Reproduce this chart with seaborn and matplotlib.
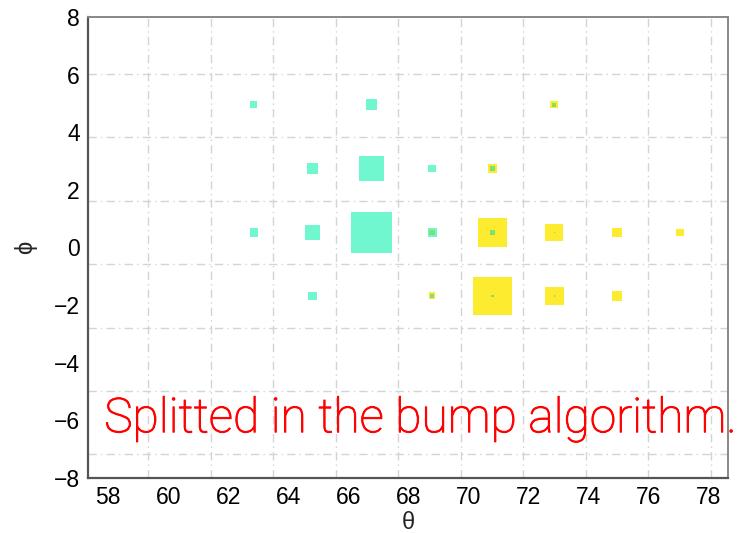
import numpy as np
import pandas as pd
import matplotlib
matplotlib.use("Agg")
import matplotlib.pyplot as plt
import matplotlib.patheffects as pe
from matplotlib.ticker import MultipleLocator
import seaborn as sns

# Cell centres of the (theta, phi) binning
theta_centres = [62.85, 64.8, 66.77, 68.78, 70.8, 72.85, 74.94, 77.03]
phi_centres = [4.96, 2.74, 0.52, -1.68]

# Cluster 1 (cyan): theta, phi, content
c1_theta = [62.85, 66.77, 64.8, 66.77, 68.78, 70.8, 72.85,
            62.85, 64.8, 66.77, 68.78, 70.8, 72.85,
            64.8, 68.78, 70.8, 72.85]
c1_phi = [4.96, 4.96, 2.74, 2.74, 2.74, 2.74, 4.96,
          0.52, 0.52, 0.52, 0.52, 0.52, 0.52,
          -1.68, -1.68, -1.68, -1.68]
c1_val = [11.5, 17.5, 17.5, 41.5, 11.5, 8.0, 6.5,
          13.0, 24.0, 67.0, 14.5, 8.0, 2.0,
          13.5, 6.5, 4.5, 2.0]

# Cluster 2 (yellow): theta, phi, content
c2_theta = [70.8, 72.85,
            68.78, 70.8, 72.85, 74.94, 77.03,
            68.78, 70.8, 72.85, 74.94]
c2_phi = [2.74, 4.96,
          0.52, 0.52, 0.52, 0.52, 0.52,
          -1.68, -1.68, -1.68, -1.68]
c2_val = [14.5, 12.5,
          8.5, 47.0, 28.5, 15.0, 12.0,
          11.0, 62.0, 30.0, 15.0]

x_grid = [59.33, 61.42, 63.5, 65.58, 67.66, 69.74, 71.82, 73.9, 75.97, 78.06]
y_grid = [6.02, 3.82, 1.62, -0.58, -2.78, -4.98, -7.18]

note = "Splitted in the bump algorithm."

CYAN = "#70f7cf"
YELLOW = "#fdeb2f"
GREEN = "#7ee070"

sns.set_theme(style="white")
plt.rcParams["font.family"] = ["Liberation Sans", "DejaVu Sans"]

fig = plt.figure(figsize=(7.43, 5.33), dpi=100)
ax = fig.add_axes([0.1184, 0.1032, 0.8614, 0.8649])

df1 = pd.DataFrame({"theta": c1_theta, "phi": c1_phi, "val": c1_val})
df2 = pd.DataFrame({"theta": c2_theta, "phi": c2_phi, "val": c2_val})
# Overlap of the two clusters: the smaller box of each shared cell
ov = df1.merge(df2, on=["theta", "phi"], suffixes=("_1", "_2"))
ov["val"] = ov[["val_1", "val_2"]].min(axis=1)

# Box side grows linearly with the content; one content unit = 0.62 px
px_per_unit = 0.62
pt_per_px = 72.0 / fig.dpi
vmax = 100.0
s_max = (vmax * px_per_unit * pt_per_px) ** 2

for d, col in [(df2, YELLOW), (df1, CYAN), (ov, GREEN)]:
    d = d.assign(area=d["val"] ** 2)
    sns.scatterplot(data=d, x="theta", y="phi", size="area",
                    sizes=(0, s_max), size_norm=(0, vmax ** 2),
                    marker="s", color=col, linewidth=0, legend=False,
                    ax=ax, zorder=3)

ax.set_xlim(57.33, 78.63)
ax.set_ylim(-8, 8)

grid_kw = dict(color="#d4d4d4", lw=1.0, ls=(0, (6, 3, 1, 3)), zorder=1)
for gx in x_grid:
    ax.axvline(gx, **grid_kw)
for gy in y_grid:
    ax.axhline(gy, **grid_kw)

ax.xaxis.set_major_locator(MultipleLocator(2))
ax.xaxis.set_minor_locator(MultipleLocator(0.5))
ax.yaxis.set_major_locator(MultipleLocator(2))
ax.yaxis.set_minor_locator(MultipleLocator(0.5))

tick_col = "#555555"
ax.tick_params(axis="both", which="both", direction="in", colors=tick_col,
               labelcolor="black", labelsize=16.5, width=1.2,
               top=False, right=False)
ax.tick_params(axis="y", which="major", length=13.5, pad=6)
ax.tick_params(axis="y", which="minor", length=7)
ax.tick_params(axis="x", which="major", length=10, pad=6)
ax.tick_params(axis="x", which="minor", length=5)

for side, sp in ax.spines.items():
    sp.set_visible(True)
    sp.set_color("#555555" if side in ("left", "bottom") else "#888888")
    sp.set_linewidth(1.6 if side in ("left", "bottom") else 1.4)

ax.set_xlabel("θ", fontsize=17, labelpad=2)
ax.set_ylabel("ϕ", fontsize=17, labelpad=12)

ax.text(57.87, -6.41, note, color="red", fontsize=34.5,
        family=["Roboto", "DejaVu Sans"], fontweight="light",
        ha="left", va="baseline", zorder=5, clip_on=False,
        path_effects=[pe.Stroke(linewidth=0.7, foreground="red"), pe.Normal()])

fig.savefig("out.png", dpi=100)
